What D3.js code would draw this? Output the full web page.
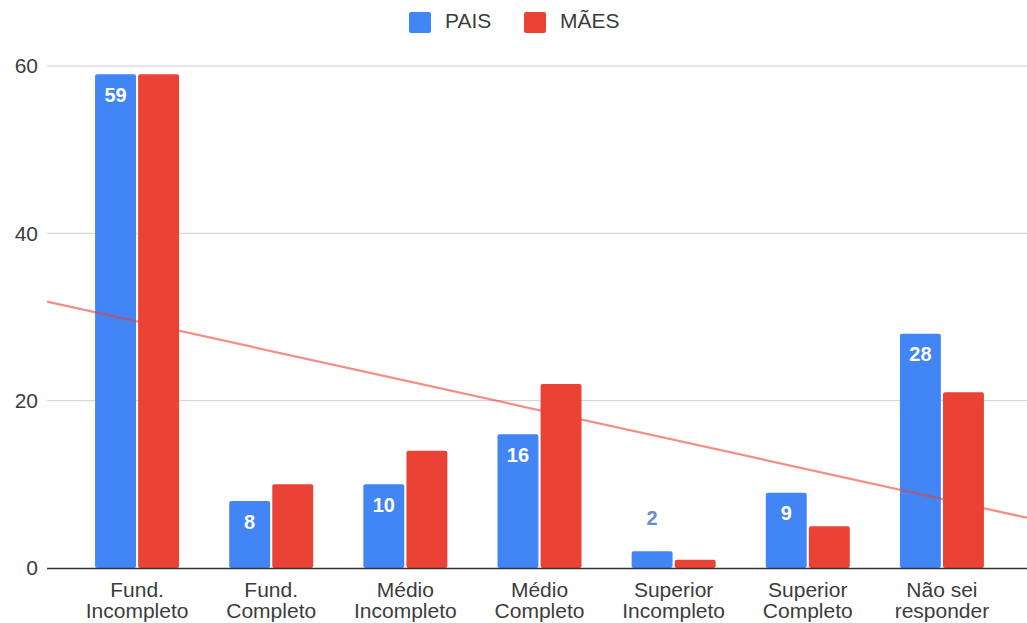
<!DOCTYPE html>
<html><head><meta charset="utf-8">
<script src="https://cdn.jsdelivr.net/npm/d3@7"></script>
<style>body{margin:0;background:#fff}svg{display:block}text{font-family:"Liberation Sans",Arial,sans-serif}</style>
</head><body>
<svg id="c" width="1027" height="623"></svg>
<script>
const categories = [["Fund.","Incompleto"],["Fund.","Completo"],["Médio","Incompleto"],["Médio","Completo"],["Superior","Incompleto"],["Superior","Completo"],["Não sei","responder"]];
const pais = [59, 8, 10, 16, 2, 9, 28];
const maes = [59, 10, 14, 22, 1, 5, 21];
const seriesNames = ["PAIS", "MÃES"];
const yTicks = [0, 20, 40, 60];
const colors = ["#4285f4", "#ea4335"];

const svg = d3.select("#c");
const y = d3.scaleLinear().domain([0, 60]).range([568, 66]);
const x = d3.scaleBand().domain(d3.range(categories.length)).range([70, 1009]);
const inner = d3.scaleBand().domain([0,1]).range([0, 84]).paddingInner(0.05);

// gridlines
svg.append("g").selectAll("line").data(yTicks.filter(d=>d>0)).join("line")
  .attr("x1", 47).attr("x2", 1027).attr("y1", d=>y(d)).attr("y2", d=>y(d))
  .attr("stroke", "#d0d0d0").attr("stroke-width", 1);
// y labels
svg.append("g").selectAll("text").data(yTicks).join("text")
  .attr("x", 38).attr("y", d=>y(d)).attr("dy", "0.35em").attr("text-anchor", "end")
  .attr("font-size", 21).attr("fill", "#3c3c3c").text(d=>d);

// bars
const groups = svg.append("g").selectAll("g").data(categories.map((c,i)=>i)).join("g")
  .attr("transform", i=>`translate(${x(i)+x.bandwidth()/2-42},0)`);
[pais, maes].forEach((vals, s) => {
  groups.append("rect")
    .attr("x", inner(s)).attr("width", inner.bandwidth())
    .attr("y", i=>y(vals[i])).attr("height", i=>y(0)-y(vals[i]))
    .attr("rx", 2).attr("fill", colors[s]);
});
// labels for PAIS
const inside = i => (y(0)-y(pais[i]) > 30);
groups.append("text")
  .attr("x", inner(0)+inner.bandwidth()/2)
  .attr("y", i=> inside(i) ? y(pais[i]) + 20.5 : y(pais[i]) - 33)
  .attr("dy", "0.35em").attr("text-anchor", "middle").attr("font-size", 20)
  .attr("font-weight", "bold")
  .attr("fill", i=> inside(i) ? "#fff" : "#6a8cc8")
  .text(i=>pais[i]);

// baseline
svg.append("line").attr("x1", 47).attr("x2", 1027).attr("y1", y(0)+0.5).attr("y2", y(0)+0.5)
  .attr("stroke", "#333").attr("stroke-width", 1.5);

// trend line (linear regression of PAIS over category index)
const n = pais.length;
const mx = d3.mean(d3.range(n)), my = d3.mean(pais);
const slope = d3.sum(d3.range(n), i=>(i-mx)*(pais[i]-my)) / d3.sum(d3.range(n), i=>(i-mx)*(i-mx));
const intercept = my - slope*mx;
const step = x.step();
const idxAt = px => (px - (x(0)+x.bandwidth()/2)) / step;
svg.append("line")
  .attr("x1", 47).attr("y1", y(intercept + slope*idxAt(47)))
  .attr("x2", 1027).attr("y2", y(intercept + slope*idxAt(1027)))
  .attr("stroke", "#ea4335").attr("stroke-opacity", 0.6).attr("stroke-width", 2.2);

// x labels
const xl = svg.append("g").selectAll("text").data(categories).join("text")
  .attr("x", (d,i)=>x(i)+x.bandwidth()/2).attr("text-anchor", "middle")
  .attr("font-size", 21).attr("fill", "#3c3c3c");
xl.append("tspan").attr("x", (d,i)=>x(i)+x.bandwidth()/2).attr("y", 597).text(d=>d[0]);
xl.append("tspan").attr("x", (d,i)=>x(i)+x.bandwidth()/2).attr("y", 618).text(d=>d[1]);

// legend
const lg = svg.append("g");
const legX = [409, 524];
seriesNames.forEach((nm, s) => {
  lg.append("rect").attr("x", legX[s]).attr("y", 12).attr("width", 22).attr("height", 21).attr("rx", 2).attr("fill", colors[s]);
  lg.append("text").attr("x", legX[s]+36).attr("y", 28).attr("font-size", 21).attr("fill", "#3c3c3c").text(nm);
});
</script>
</body></html>
